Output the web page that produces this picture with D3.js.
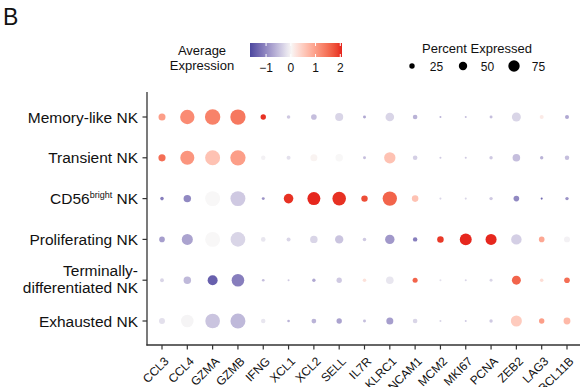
<!DOCTYPE html>
<html lang="en">
  <head>
    <meta charset="utf-8">
    <title>NK dot plot</title>
    <script src="https://d3js.org/d3.v7.min.js"></script>
    <style>
      body { margin: 0; background: #fff; }
      svg text { font-family: "Liberation Sans", Arial, sans-serif; fill: #111; }
    </style>
  </head>
  <body>
    <div id="here"></div>
    <script>
      // genes on x, cell types on y
      var genes = ["CCL3", "CCL4", "GZMA", "GZMB", "IFNG", "XCL1", "XCL2", "SELL", "IL7R",
                   "KLRC1", "NCAM1", "MCM2", "MKI67", "PCNA", "ZEB2", "LAG3", "BCL11B"];
      var cellTypes = ["Memory-like NK", "Transient NK", "CD56bright NK", "Proliferating NK",
                       "Terminally-differentiated NK", "Exhausted NK"];

      // percent expressed, one array per cell type
      var memoryPct    = [36, 85, 92, 91, 25, 13, 27, 43,  9, 47, 20, 3, 3,  9, 49, 16, 16];
      var transientPct = [37, 83, 89, 91, 19, 16, 36, 39,  9, 65, 20, 3, 3, 12, 40, 12, 19];
      var brightPct    = [13, 39, 89, 89,  9, 53, 76, 80, 32, 85, 33, 3, 3, 12, 27,  3, 12];
      var prolifPct    = [27, 63, 89, 87, 20, 16, 39, 45, 13, 52, 19, 33, 69, 63, 59, 27, 29];
      var termPct      = [15, 39, 56, 73,  7,  3, 12, 25, 13, 40, 23, 3, 3,  9, 49, 13, 27];
      var exhaustedPct = [29, 73, 87, 89, 19,  7, 21, 25,  9, 36, 20, 3, 3, 12, 63, 25, 35];

      // average (scaled) expression
      var memoryExp    = [1.0, 1.2, 1.3, 1.4, 2.0, -0.4, -0.5, -0.3, -0.7, -0.3, -0.6, -0.6, -0.5, -0.5, -0.3, 0.15, -0.7];
      var transientExp = [1.5, 1.1, 0.6, 1.0, -0.05, -0.2, 0.05, 0.0, -0.5, 0.6, -0.35, -0.4, -0.4, -0.4, -0.5, -0.6, -0.5];
      var brightExp    = [-1.1, -1.0, 0.0, -0.4, -0.9, 2.0, 2.05, 2.0, 1.8, 1.6, 0.6, -0.3, -0.3, -0.4, -1.0, -1.3, -0.9];
      var prolifExp    = [-0.8, -0.75, 0.0, -0.3, -0.15, -0.3, -0.3, -0.45, -0.4, -0.85, -1.1, 1.95, 2.05, 2.05, -0.35, 0.9, -0.05];
      var termExp      = [-0.3, -0.55, -1.4, -1.1, -0.5, -0.4, -0.7, -0.4, 0.25, -0.15, 1.6, -0.2, -0.3, -0.3, 1.6, 0.3, 1.5];
      var exhaustedExp = [-0.2, -0.03, -0.45, -0.55, -0.15, -0.6, -0.6, -0.75, -0.5, -0.8, -0.3, -0.3, -0.4, -0.4, 0.5, 1.0, 0.7];

      var expTicks = [-1, 0, 1, 2];
      var pctTicks = [25, 50, 75];

      var pctRows = [memoryPct, transientPct, brightPct, prolifPct, termPct, exhaustedPct];
      var expRows = [memoryExp, transientExp, brightExp, prolifExp, termExp, exhaustedExp];

      var cells = [];
      cellTypes.forEach(function(c, i) {
        genes.forEach(function(g, j) {
          cells.push({ cell: c, gene: g, pct: pctRows[i][j], exp: expRows[i][j] });
        });
      });

      var w = 585, h = 387;
      var svg = d3.select("#here").append("svg")
        .attr("width", w)
        .attr("height", h);

      var x = d3.scalePoint().domain(genes).range([162, 567]);
      var y = d3.scalePoint().domain(cellTypes).range([117, 321]);
      var r = d3.scaleLinear().domain([0, 100]).range([0.8, 8.3]);
      var color = d3.scaleLinear()
        .domain([-1.65, 0, 2.07])
        .range(["#4c489f", "#f8f7f7", "#e5231c"])
        .interpolate(d3.interpolateLab)
        .clamp(true);

      // panel letter
      svg.append("text")
        .attr("x", 3).attr("y", 25)
        .attr("font-size", 23)
        .text("B");

      // dots
      svg.append("g").selectAll("circle")
        .data(cells)
        .enter()
        .append("circle")
        .attr("cx", function(d) { return x(d.gene); })
        .attr("cy", function(d) { return y(d.cell); })
        .attr("r", function(d) { return r(d.pct); })
        .attr("fill", function(d) { return color(d.exp); });

      // axes
      var axisColor = "#333";
      svg.append("line")
        .attr("x1", 147).attr("x2", 147).attr("y1", 92).attr("y2", 345.5)
        .attr("stroke", axisColor).attr("stroke-width", 1.3);
      svg.append("line")
        .attr("x1", 146.4).attr("x2", 580).attr("y1", 345).attr("y2", 345)
        .attr("stroke", axisColor).attr("stroke-width", 1.3);

      svg.append("g").selectAll("line")
        .data(cellTypes)
        .enter()
        .append("line")
        .attr("x1", 142.5).attr("x2", 147)
        .attr("y1", function(d) { return y(d); })
        .attr("y2", function(d) { return y(d); })
        .attr("stroke", axisColor).attr("stroke-width", 1.2);

      svg.append("g").selectAll("line")
        .data(genes)
        .enter()
        .append("line")
        .attr("x1", function(d) { return x(d); })
        .attr("x2", function(d) { return x(d); })
        .attr("y1", 345).attr("y2", 349.5)
        .attr("stroke", axisColor).attr("stroke-width", 1.2);

      // y labels
      var ylab = svg.append("g").selectAll("text")
        .data(cellTypes)
        .enter()
        .append("text")
        .attr("text-anchor", "end")
        .attr("font-size", 15.5)
        .attr("x", 138)
        .attr("y", function(d) { return y(d) + 5.5; });

      ylab.each(function(d) {
        var t = d3.select(this);
        if (d == "CD56bright NK") {
          t.append("tspan").text("CD56");
          t.append("tspan").attr("font-size", 9).attr("dy", -6).text("bright");
          t.append("tspan").attr("dy", 6).text(" NK");
        } else if (d == "Terminally-differentiated NK") {
          t.attr("y", null);
          t.append("tspan").attr("x", 138).attr("y", y(d) - 4).text("Terminally-");
          t.append("tspan").attr("x", 138).attr("y", y(d) + 13).text("differentiated NK");
        } else {
          t.text(d);
        }
      });

      // x labels
      svg.append("g").selectAll("text")
        .data(genes)
        .enter()
        .append("text")
        .attr("text-anchor", "end")
        .attr("font-size", 12)
        .attr("dy", "0.71em")
        .attr("transform", function(d) { return "translate(" + (x(d) + 1.5) + ",356) rotate(-45)"; })
        .text(function(d) { return d; });

      // colour legend
      svg.append("text")
        .attr("x", 202).attr("y", 54.5)
        .attr("text-anchor", "middle").attr("font-size", 13)
        .text("Average");
      svg.append("text")
        .attr("x", 202).attr("y", 69.5)
        .attr("text-anchor", "middle").attr("font-size", 13)
        .text("Expression");

      var bx = d3.scaleLinear().domain([-1.65, 2.07]).range([250, 342]);
      var grad = svg.append("defs").append("linearGradient")
        .attr("id", "expgrad");
      d3.range(0, 1.0001, 0.05).forEach(function(t) {
        var v = -1.65 + t * (2.07 + 1.65);
        grad.append("stop")
          .attr("offset", (t * 100) + "%")
          .attr("stop-color", color(v));
      });
      svg.append("rect")
        .attr("x", bx(-1.65)).attr("y", 43)
        .attr("width", bx(2.07) - bx(-1.65)).attr("height", 14)
        .attr("fill", "url(#expgrad)");

      var tk = svg.append("g").selectAll("g")
        .data(expTicks)
        .enter()
        .append("g");
      tk.append("line")
        .attr("x1", function(d) { return bx(d); }).attr("x2", function(d) { return bx(d); })
        .attr("y1", 43).attr("y2", 46)
        .attr("stroke", "#fff").attr("stroke-width", 1);
      tk.append("line")
        .attr("x1", function(d) { return bx(d); }).attr("x2", function(d) { return bx(d); })
        .attr("y1", 54).attr("y2", 57)
        .attr("stroke", "#fff").attr("stroke-width", 1);
      tk.append("text")
        .attr("x", function(d) { return bx(d); })
        .attr("y", 72)
        .attr("text-anchor", "middle")
        .attr("font-size", 12)
        .text(function(d) { return d < 0 ? "\u2212" + Math.abs(d) : d; });

      // size legend
      var rLeg = d3.scaleLinear().domain([0, 100]).range([1.2, 7.2]);
      var legX = d3.scalePoint().domain(pctTicks).range([412, 514]);
      svg.append("text")
        .attr("x", 477).attr("y", 53)
        .attr("text-anchor", "middle").attr("font-size", 13)
        .text("Percent Expressed");
      var sl = svg.append("g").selectAll("g")
        .data(pctTicks)
        .enter()
        .append("g");
      sl.append("circle")
        .attr("cx", function(d) { return legX(d); })
        .attr("cy", 66)
        .attr("r", function(d) { return rLeg(d); })
        .attr("fill", "#000");
      sl.append("text")
        .attr("x", function(d) { return legX(d) + 24.5; })
        .attr("y", 70.5)
        .attr("text-anchor", "middle")
        .attr("font-size", 12)
        .text(function(d) { return d; });
    </script>
  </body>
</html>
